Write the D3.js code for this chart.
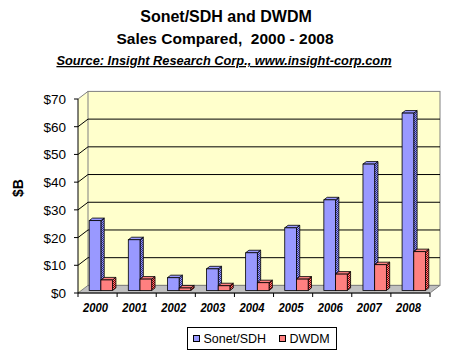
<!DOCTYPE html>
<html><head><meta charset="utf-8">
<script src="https://cdn.jsdelivr.net/npm/d3@7"></script>
<style>body{margin:0;background:#fff}svg{display:block}text{font-family:"Liberation Sans",Arial,sans-serif}</style>
</head><body>
<svg id="c" width="454" height="357"></svg>
<script>
const categories = ["2000","2001","2002","2003","2004","2005","2006","2007","2008"];
const sonetValues = [25.2, 18.3, 4.6, 7.8, 13.6, 22.6, 32.7, 45.6, 64.0];
const dwdmValues = [3.8, 4.1, 0.9, 1.7, 2.8, 4.1, 5.9, 9.3, 14.0];
const seriesNames = ["Sonet/SDH", "DWDM"];
const yTicks = [0,10,20,30,40,50,60,70];
const yTickLabels = ["$0","$10","$20","$30","$40","$50","$60","$70"];

const svg = d3.select("#c");
const defs = svg.append("defs");
function checker(id, a, b){
  const p = defs.append("pattern").attr("id", id).attr("width",2).attr("height",2).attr("patternUnits","userSpaceOnUse");
  p.append("rect").attr("width",2).attr("height",2).attr("fill",a);
  p.append("rect").attr("width",1).attr("height",1).attr("fill",b);
  p.append("rect").attr("x",1).attr("y",1).attr("width",1).attr("height",1).attr("fill",b);
}
checker("sideBlue", "#9999FF", "#333380");
checker("sideRed", "#FF8080", "#800000");

const X0 = 78, X1 = 430, DX = 10, DY = -7.6;
const x = d3.scaleBand().domain(categories).range([X0, X1]).paddingInner(0).paddingOuter(0);
const y = d3.scaleLinear().domain([0,70]).range([293, 99]);

// Titles
svg.append("text").attr("x",226).attr("y",22).attr("text-anchor","middle").attr("font-size",16).attr("font-weight","bold").text("Sonet/SDH and DWDM");
svg.append("text").attr("x",225).attr("y",44).attr("text-anchor","middle").attr("font-size",15.5).attr("font-weight","bold").attr("xml:space","preserve").text("Sales Compared,  2000 - 2008");
svg.append("text").attr("x",224).attr("y",65).attr("text-anchor","middle").attr("font-size",12.8).attr("font-weight","bold").attr("font-style","italic").attr("text-decoration","underline").text("Source: Insight Research Corp., www.insight-corp.com");

// Walls
const yTop = y(70), yBot = y(0);
svg.append("polygon").attr("points", [[X0,yTop],[X0+DX,yTop+DY],[X0+DX,yBot+DY],[X0,yBot]].join(" ")).attr("fill","#FFFFCC").attr("stroke","none");
svg.append("rect").attr("x",X0+DX).attr("y",yTop+DY).attr("width",X1-X0).attr("height",yBot-yTop).attr("fill","#FFFFCC").attr("stroke","#808080");
svg.append("line").attr("x1",X0).attr("y1",yTop).attr("x2",X0+DX).attr("y2",yTop+DY).attr("stroke","#808080");
// Floor
svg.append("polygon").attr("points", [[X0,yBot],[X1,yBot],[X1+DX,yBot+DY],[X0+DX,yBot+DY]].join(" ")).attr("fill","#C0C0C0").attr("stroke","#808080");

// Gridlines
const gl = yTicks.filter(v => v > 0 && v < 70);
svg.selectAll(".gb").data(gl).enter().append("line").attr("x1",X0+DX).attr("x2",X1+DX).attr("y1",d=>y(d)+DY).attr("y2",d=>y(d)+DY).attr("stroke","#000");
svg.selectAll(".gs").data(gl).enter().append("line").attr("x1",X0).attr("x2",X0+DX).attr("y1",d=>y(d)).attr("y2",d=>y(d)+DY).attr("stroke","#000");

// Axes
svg.append("line").attr("x1",X0).attr("x2",X0).attr("y1",yTop).attr("y2",yBot).attr("stroke","#000");
svg.append("line").attr("x1",X0).attr("x2",X1).attr("y1",yBot).attr("y2",yBot).attr("stroke","#000");
svg.selectAll(".yt").data(yTicks).enter().append("line").attr("x1",X0-4).attr("x2",X0).attr("y1",d=>y(d)).attr("y2",d=>y(d)).attr("stroke","#000");
svg.selectAll(".yl").data(yTicks).enter().append("text").attr("x",66).attr("y",d=>y(d)+5).attr("text-anchor","end").attr("font-size",13.5).text((d,i)=>yTickLabels[i]);
const xt = categories.map(c => x(c)).concat([X1]);
svg.selectAll(".xt").data(xt).enter().append("line").attr("x1",d=>d).attr("x2",d=>d).attr("y1",yBot).attr("y2",yBot+4).attr("stroke","#000");
svg.selectAll(".xl").data(categories).enter().append("text").attr("x",d=>x(d)+x.bandwidth()/2-2).attr("y",312).attr("text-anchor","middle").attr("font-size",13.5).attr("font-weight","bold").attr("font-style","italic").attr("textLength",25).attr("lengthAdjust","spacingAndGlyphs").text(d=>d);

// y axis title
svg.append("text").attr("transform","translate(23,188) rotate(-90)").attr("text-anchor","middle").attr("font-size",14).attr("font-weight","bold").text("$B");

// Bars
const bw = 11.7, t1 = 1/3;
const ox = DX*t1, oy = DY*t1;
const series = [
  {name: seriesNames[0], values: sonetValues, front: "#9999FF", side: "url(#sideBlue)"},
  {name: seriesNames[1], values: dwdmValues, front: "#FF8080", side: "url(#sideRed)"}
];
const g = svg.append("g");
categories.forEach((c, i) => {
  const start = x(c) + (x.bandwidth() - 2*bw)/2 + ox;
  series.forEach((s, k) => {
    const bx = start + k*bw;
    const yt = y(s.values[i]) + oy, yb = y(0) + oy;
    g.append("polygon").attr("points", [[bx+bw,yt],[bx+bw+ox,yt+oy],[bx+bw+ox,yb+oy],[bx+bw,yb]].join(" ")).attr("fill", s.side).attr("stroke","#000").attr("stroke-width",0.8);
    g.append("polygon").attr("points", [[bx,yt],[bx+ox,yt+oy],[bx+bw+ox,yt+oy],[bx+bw,yt]].join(" ")).attr("fill", s.front).attr("stroke","#000").attr("stroke-width",0.8);
    g.append("rect").attr("x",bx).attr("y",yt).attr("width",bw).attr("height",yb-yt).attr("fill",s.front).attr("stroke","#000").attr("stroke-width",0.8);
  });
});

// Legend
svg.append("rect").attr("x",187.5).attr("y",327.5).attr("width",149).attr("height",22).attr("fill","#fff").attr("stroke","#000");
const lx = [193.5, 279.5], tx = [203.5, 289.5];
series.forEach((s,k) => {
  svg.append("rect").attr("x",lx[k]).attr("y",335.5).attr("width",6).attr("height",6).attr("fill",s.front).attr("stroke","#000");
  svg.append("text").attr("x",tx[k]).attr("y",343).attr("font-size",12.5).text(s.name);
});
</script>
</body></html>
